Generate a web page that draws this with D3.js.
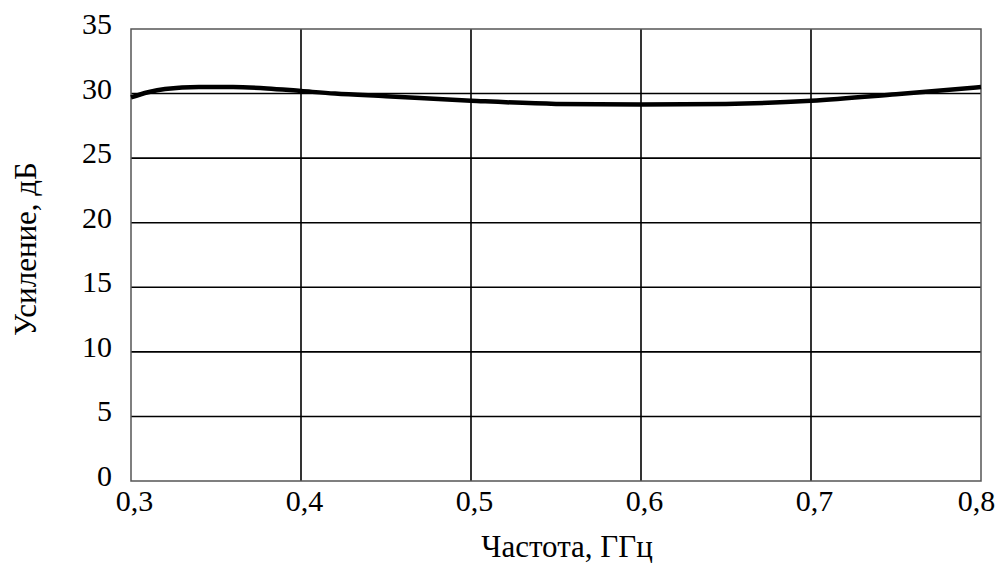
<!DOCTYPE html>
<html lang="ru">
<head>
  <meta charset="UTF-8" />
  <title>Усиление</title>
  <script src="https://d3js.org/d3.v7.min.js"></script>
  <style>
    body {
      margin: 0;
      background: #fff;
    }
    text {
      font-family: "Liberation Serif", "Times New Roman", serif;
    }
    .tick text {
      font-family: "Liberation Serif", "Times New Roman", serif;
      font-size: 30px;
      fill: #000;
    }
  </style>
</head>
<body>
<svg id="chart" width="995" height="564"></svg>
<script>
// frequency, GHz
const freq = [0.30, 0.31, 0.32, 0.34, 0.36, 0.38, 0.40, 0.42, 0.45, 0.50, 0.55, 0.60, 0.65, 0.70, 0.75, 0.80];
// gain, dB
const gain = [29.7, 30.1, 30.35, 30.5, 30.5, 30.4, 30.2, 30.0, 29.8, 29.45, 29.2, 29.15, 29.2, 29.45, 29.95, 30.5];

const xTicks = [0.3, 0.4, 0.5, 0.6, 0.7, 0.8];
const yTicks = [0, 5, 10, 15, 20, 25, 30, 35];

const margin = {top: 29, right: 14, bottom: 83, left: 131};
const width = 995 - margin.left - margin.right;
const height = 564 - margin.top - margin.bottom;

const svg = d3.select("#chart");
const g = svg.append("g").attr("transform", `translate(${margin.left},${margin.top})`);

const x = d3.scaleLinear().domain([0.3, 0.8]).range([0, width]);
const y = d3.scaleLinear().domain([0, 35]).range([height, 0]);

const fmt = d => d3.format(".1f")(d).replace(".", ",");

// grid
g.append("g")
  .selectAll("line")
  .data(yTicks.filter(d => d > 0 && d < 35))
  .join("line")
    .attr("x1", 0).attr("x2", width)
    .attr("y1", d => y(d)).attr("y2", d => y(d))
    .attr("stroke", "#000")
    .attr("stroke-width", 1.6);

g.append("g")
  .selectAll("line")
  .data(xTicks.filter(d => d > 0.3 && d < 0.8))
  .join("line")
    .attr("x1", d => x(d)).attr("x2", d => x(d))
    .attr("y1", 0).attr("y2", height)
    .attr("stroke", "#000")
    .attr("stroke-width", 1.6);

// frame
g.append("rect")
  .attr("width", width).attr("height", height)
  .attr("fill", "none")
  .attr("stroke", "#555")
  .attr("stroke-width", 1.5);

// axes (labels only)
const xAxis = g.append("g")
  .attr("transform", `translate(0,${height})`)
  .call(d3.axisBottom(x).tickValues(xTicks).tickFormat(fmt).tickSize(0).tickPadding(9));
xAxis.select(".domain").remove();
xAxis.selectAll(".tick text").attr("dx", "3");
xAxis.selectAll(".tick").filter(d => d === 0.8).select("text").attr("dx", "-5");

const yAxis = g.append("g")
  .call(d3.axisLeft(y).tickValues(yTicks).tickFormat(d3.format("d")).tickSize(0).tickPadding(19));
yAxis.select(".domain").remove();
yAxis.selectAll(".tick text").attr("dy", "0.15em");

// curve
const line = d3.line()
  .x((d, i) => x(freq[i]))
  .y(d => y(d))
  .curve(d3.curveMonotoneX);

g.append("path")
  .datum(gain)
  .attr("fill", "none")
  .attr("stroke", "#000")
  .attr("stroke-width", 4.5)
  .attr("d", line);

// titles
svg.append("text")
  .attr("x", 567)
  .attr("y", 557)
  .attr("text-anchor", "middle")
  .style("font-size", "31px")
  .text("Частота, ГГц");

svg.append("text")
  .attr("transform", `translate(36,249) rotate(-90)`)
  .attr("text-anchor", "middle")
  .style("font-size", "31px")
  .text("Усиление, дБ");
</script>
</body>
</html>
